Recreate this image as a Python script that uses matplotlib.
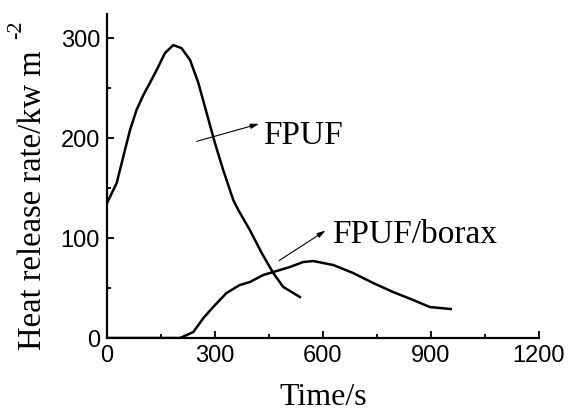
import matplotlib
matplotlib.use('Agg')
import matplotlib.pyplot as plt
from matplotlib.ticker import MultipleLocator

plt.rcParams['font.family'] = 'Liberation Serif'

# FPUF curve (time s, HRR kW m-2)
t_fpuf = [0, 27, 45, 64, 82, 101, 119, 138, 161, 184, 207, 231, 254, 277,
          300, 323, 351, 365, 397, 430, 462, 490, 518, 536]
hrr_fpuf = [135, 155, 181, 208, 228, 243, 255, 268, 285, 293, 290, 278, 255, 225,
            195, 168, 138, 128, 108, 85, 65, 51, 45, 41]

# FPUF/borax curve
t_borax = [0, 100, 203, 240, 268, 295, 332, 369, 397, 434, 471, 508, 545, 573,
           629, 684, 740, 795, 851, 897, 955]
hrr_borax = [0, 0, 0, 6, 20, 31, 45, 53, 56, 63, 67, 71, 76, 77,
             73, 65, 55, 46, 38, 31, 29]

xticks = [0, 300, 600, 900, 1200]
yticks = [0, 100, 200, 300]

fig = plt.figure(figsize=(5.69, 4.15), dpi=100)
ax = fig.add_axes([0.188, 0.1855, 0.759, 0.7805])

ax.plot(t_fpuf, hrr_fpuf, color='black', lw=1.8, solid_joinstyle='round')
ax.plot(t_borax, hrr_borax, color='black', lw=1.8, solid_joinstyle='round')

ax.set_xlim(0, 1200)
ax.set_ylim(0, 324)
ax.set_xticks(xticks)
ax.set_yticks(yticks)
ax.xaxis.set_minor_locator(MultipleLocator(150))
ax.yaxis.set_minor_locator(MultipleLocator(50))

for side in ['top', 'right']:
    ax.spines[side].set_visible(False)
for side in ['left', 'bottom']:
    ax.spines[side].set_linewidth(1.6)

ax.tick_params(which='both', direction='in', width=1.3)
ax.tick_params(which='major', length=5, labelsize=17, pad=5)
ax.tick_params(which='minor', length=3)
for lab in ax.get_xticklabels() + ax.get_yticklabels():
    lab.set_fontfamily('Liberation Sans')

# x label placed by hand so it stays inside the canvas
fig.text(0.568, 0.008, 'Time/s', fontsize=23, ha='center', va='bottom')
# y label with a hyphen superscript, placed by hand
fig.text(0.058, 0.518, 'Heat release rate/kw m', rotation=90, fontsize=23.5,
         ha='center', va='center')
fig.text(0.030, 0.928, '-2', rotation=90, fontsize=16, ha='center', va='center')

arrow = dict(arrowstyle='-|>,head_length=0.5,head_width=0.15', color='black', lw=0.8)
ax.annotate('', xy=(430, 215), xytext=(242, 196), arrowprops=arrow)
ax.text(433, 202, 'FPUF', fontsize=24, va='center')
ax.annotate('', xy=(614, 109), xytext=(472, 76), arrowprops=arrow)
ax.text(625, 103, 'FPUF/borax', fontsize=24, va='center')

fig.savefig('out.png', dpi=100)
